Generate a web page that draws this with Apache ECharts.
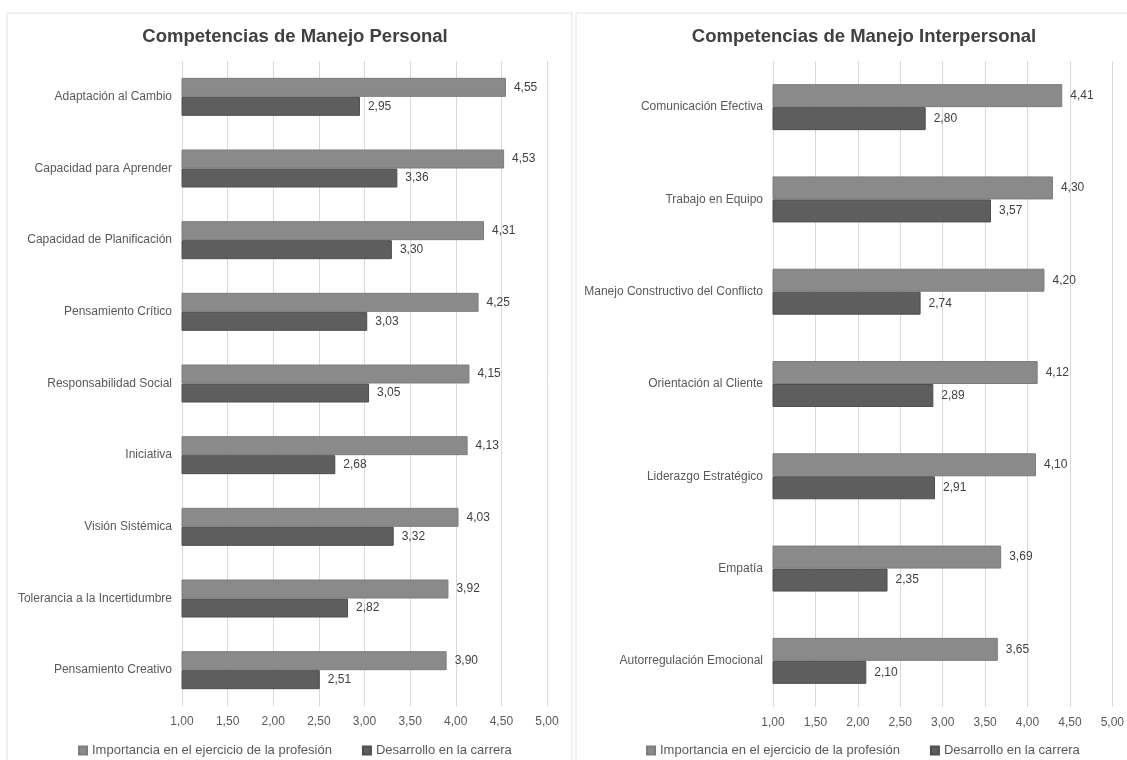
<!DOCTYPE html>
<html>
<head>
<meta charset="utf-8">
<script src="https://cdn.jsdelivr.net/npm/echarts@6/dist/echarts.min.js"></script>
<style>
  html, body { margin: 0; padding: 0; background: #fff; }
  #chart { width: 1127px; height: 760px; }
</style>
</head>
<body>
<div id="chart"></div>
<script>
// Competencias de Manejo Personal
var personalCats = ['Adaptación al Cambio', 'Capacidad para Aprender', 'Capacidad de Planificación',
  'Pensamiento Crítico', 'Responsabilidad Social', 'Iniciativa', 'Visión Sistémica',
  'Tolerancia a la Incertidumbre', 'Pensamiento Creativo']
var personalImportancia = [4.55, 4.53, 4.31, 4.25, 4.15, 4.13, 4.03, 3.92, 3.90]
var personalDesarrollo = [2.95, 3.36, 3.30, 3.03, 3.05, 2.68, 3.32, 2.82, 2.51]

// Competencias de Manejo Interpersonal
var interCats = ['Comunicación Efectiva', 'Trabajo en Equipo', 'Manejo Constructivo del Conflicto',
  'Orientación al Cliente', 'Liderazgo Estratégico', 'Empatía', 'Autorregulación Emocional']
var interImportancia = [4.41, 4.30, 4.20, 4.12, 4.10, 3.69, 3.65]
var interDesarrollo = [2.80, 3.57, 2.74, 2.89, 2.91, 2.35, 2.10]

var serieNames = ['Importancia en el ejercicio de la profesión', 'Desarrollo en la carrera']
var axisMin = 1
var axisMax = 5
var axisStep = 0.5

var font = 'Liberation Sans, Arial, sans-serif'
var colorLight = '#8a8a8a'
var colorDark = '#5e5e5e'

function comma (v) {
  return Number(v).toFixed(2).replace('.', ',')
}

var chart = echarts.init(document.getElementById('chart'))

function xAxisFor (idx) {
  return {
    type: 'value',
    gridIndex: idx,
    min: axisMin,
    max: axisMax,
    interval: axisStep,
    axisLine: { show: false },
    axisTick: { show: false },
    splitLine: { lineStyle: { color: '#d9d9d9', width: 1 } },
    axisLabel: {
      formatter: comma,
      color: '#595959',
      fontSize: 12,
      fontFamily: font,
      margin: 10
    }
  }
}

function yAxisFor (idx, cats) {
  return {
    type: 'category',
    gridIndex: idx,
    data: cats,
    inverse: true,
    axisLine: { show: false },
    axisTick: { show: false },
    axisLabel: {
      color: '#595959',
      fontSize: 12,
      fontFamily: font,
      margin: 10
    }
  }
}

function barSerie (name, idx, values, color, border, width) {
  return {
    name: name,
    type: 'bar',
    xAxisIndex: idx,
    yAxisIndex: idx,
    data: values,
    barWidth: width,
    barGap: '0%',
    itemStyle: { color: color, borderColor: border, borderWidth: 1 },
    label: {
      show: true,
      position: 'right',
      distance: 8,
      formatter: function (p) { return comma(p.value) },
      color: '#404040',
      fontSize: 12,
      fontFamily: font
    }
  }
}

var option = {
  backgroundColor: '#fff',
  animation: false,
  graphic: [
    { type: 'rect', shape: { x: 7, y: 13, width: 565, height: 760 }, style: { fill: 'none', stroke: '#e3e3e3', lineWidth: 1 }, silent: true },
    { type: 'rect', shape: { x: 576, y: 13, width: 570, height: 760 }, style: { fill: 'none', stroke: '#e3e3e3', lineWidth: 1 }, silent: true }
  ],
  title: [
    {
      text: 'Competencias de Manejo Personal',
      left: 290,
      top: 22,
      textAlign: 'center',
      textStyle: { color: '#404040', fontSize: 18.5, fontWeight: 'bold', fontFamily: font }
    },
    {
      text: 'Competencias de Manejo Interpersonal',
      left: 859,
      top: 22,
      textAlign: 'center',
      textStyle: { color: '#404040', fontSize: 18.5, fontWeight: 'bold', fontFamily: font }
    }
  ],
  legend: [
    {
      data: serieNames,
      left: 73,
      top: 739,
      icon: 'rect',
      itemWidth: 8,
      itemHeight: 8,
      itemGap: 30,
      textStyle: { color: '#595959', fontSize: 13, fontFamily: font }
    },
    {
      data: serieNames,
      left: 641,
      top: 739,
      icon: 'rect',
      itemWidth: 8,
      itemHeight: 8,
      itemGap: 30,
      textStyle: { color: '#595959', fontSize: 13, fontFamily: font }
    }
  ],
  grid: [
    { left: 182, right: 580, top: 61, bottom: 54, containLabel: false },
    { left: 773, right: 11, top: 61, bottom: 53, containLabel: false }
  ],
  xAxis: [xAxisFor(0), xAxisFor(1)],
  yAxis: [yAxisFor(0, personalCats), yAxisFor(1, interCats)],
  series: [
    barSerie(serieNames[0], 0, personalImportancia, colorLight, '#7c7c7c', 19),
    barSerie(serieNames[1], 0, personalDesarrollo, colorDark, '#4e4e4e', 19),
    barSerie(serieNames[0], 1, interImportancia, colorLight, '#7c7c7c', 23),
    barSerie(serieNames[1], 1, interDesarrollo, colorDark, '#4e4e4e', 23)
  ]
}

chart.setOption(option)
</script>
</body>
</html>
